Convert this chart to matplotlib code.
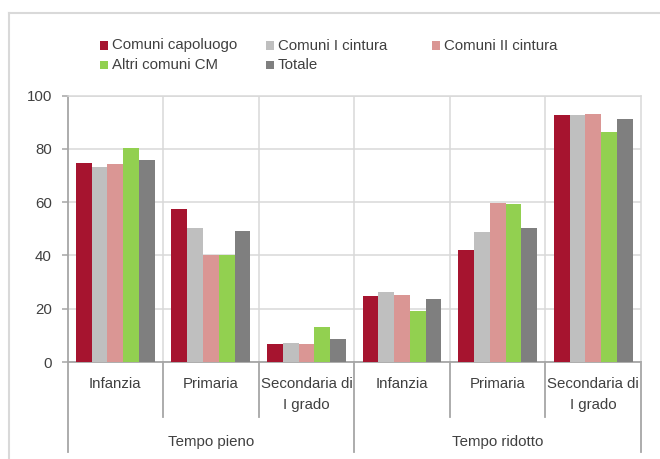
import matplotlib
matplotlib.use("Agg")
import matplotlib.pyplot as plt
from matplotlib.patches import Rectangle
from matplotlib.lines import Line2D

# data (percentages)
categories = ["Infanzia", "Primaria", "Secondaria di\nI grado",
              "Infanzia", "Primaria", "Secondaria di\nI grado"]
groups = ["Tempo pieno", "Tempo ridotto"]
series_names = ["Comuni capoluogo", "Comuni I cintura", "Comuni II cintura",
                "Altri comuni CM", "Totale"]
capoluogo = [74.6, 57.3, 6.8, 24.7, 42.2, 92.7]
cintura_1 = [73.1, 50.5, 7.0, 26.4, 49.0, 92.7]
cintura_2 = [74.4, 40.0, 6.7, 25.3, 59.7, 93.0]
altri_cm = [80.5, 40.3, 13.2, 19.2, 59.2, 86.3]
totale = [75.9, 49.2, 8.5, 23.7, 50.4, 91.2]
series = [capoluogo, cintura_1, cintura_2, altri_cm, totale]
colors = ["#A6142F", "#BFBFBF", "#DA9694", "#92D050", "#7F7F7F"]

W, H = 660, 459
TXT = "#404040"
AXC = "#A6A6A6"
GRID = "#D9D9D9"
FS = 10.8

plt.rcParams["font.family"] = ["Liberation Sans", "DejaVu Sans"]


def fx(x):
    return x / W


def fy(y):
    return 1 - y / H


fig = plt.figure(figsize=(W / 100, H / 100), dpi=100)
ax = fig.add_axes([fx(67.5), fy(362), fx(641 - 67.5), (362 - 95.7) / H])

n = len(series)
bw = 0.165
x = list(range(len(categories)))
for i, (vals, col) in enumerate(zip(series, colors)):
    pos = [xi + (i - (n - 1) / 2) * bw for xi in x]
    ax.bar(pos, vals, width=bw, color=col, linewidth=0, zorder=3)

ax.set_xlim(-0.5, len(categories) - 0.5)
ax.set_ylim(0, 100)
ax.set_yticks([0, 20, 40, 60, 80, 100])
ax.set_xticks([])
ax.yaxis.grid(True, color=GRID, lw=1.1, zorder=0)
ax.set_axisbelow(True)
for b in [0.5, 1.5, 2.5, 3.5, 4.5]:
    ax.axvline(b, color=GRID, lw=1.1, zorder=0)
ax.tick_params(axis="y", length=4.3, width=1.1, color=AXC, pad=7,
               labelsize=FS, labelcolor=TXT)
ax.spines["left"].set_color(AXC)
ax.spines["bottom"].set_color(AXC)
ax.spines["left"].set_linewidth(1.3)
ax.spines["bottom"].set_linewidth(1.3)
ax.spines["top"].set_color(GRID)
ax.spines["right"].set_color(GRID)
ax.spines["top"].set_linewidth(1.1)
ax.spines["right"].set_linewidth(1.1)

# two-level category axis
tr = ax.get_xaxis_transform()
for b in [0.5, 1.5, 3.5, 4.5]:
    ax.plot([b, b], [0, -0.207], color=AXC, lw=1.3, transform=tr, clip_on=False)
for b in [-0.5, 2.5, 5.5]:
    ax.plot([b, b], [0, -0.337], color=AXC, lw=1.3, transform=tr, clip_on=False)
for xi, lab in zip(x, categories):
    ax.text(xi, -0.058, lab, transform=tr, ha="center", va="top",
            fontsize=FS, color=TXT, linespacing=1.6)
for gi, g in enumerate(groups):
    ax.text(1 + 3 * gi, -0.299, g, transform=tr, ha="center", va="center",
            fontsize=FS, color=TXT)

# legend laid out as in the original (3 columns, 2 rows)
leg_pos = [(104, 45.5), (270, 45.5), (436, 45.5), (104, 65), (270, 65)]
sq = 8
for (lx, ly), name, col in zip(leg_pos, series_names, colors):
    fig.add_artist(Rectangle((fx(lx - sq / 2), fy(ly + sq / 2)), sq / W, sq / H,
                             transform=fig.transFigure, color=col, lw=0))
    fig.text(fx(lx + 8), fy(ly), name, ha="left", va="center",
             fontsize=FS, color=TXT)

# outer chart frame
fig.add_artist(Line2D([fx(8.5), fx(8.5)], [0, fy(12.7)], color=GRID, lw=1.5,
                      transform=fig.transFigure))
fig.add_artist(Line2D([fx(8.5), 1], [fy(12.7), fy(12.7)], color=GRID, lw=1.5,
                      transform=fig.transFigure))

fig.savefig("out.png", dpi=100)
